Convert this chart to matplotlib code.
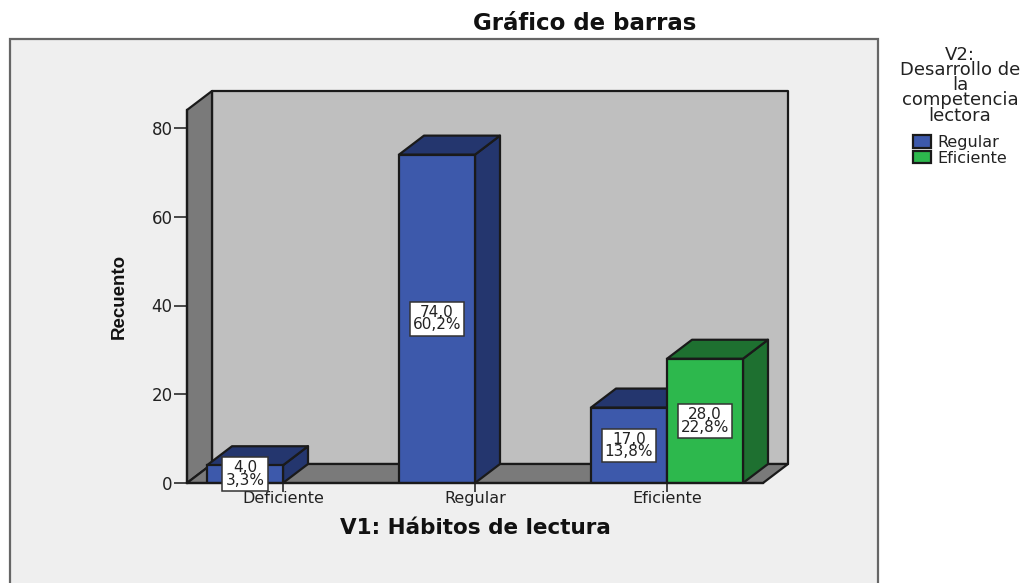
import matplotlib
matplotlib.use("Agg")
import matplotlib.pyplot as plt
from matplotlib.patches import Patch, Polygon, Rectangle
from matplotlib.transforms import IdentityTransform

categories = ["Deficiente", "Regular", "Eficiente"]
regular_counts = [4.0, 74.0, 17.0]
regular_pct = ["3,3%", "60,2%", "13,8%"]
eficiente_counts = [28.0]
eficiente_pct = ["22,8%"]
y_ticks = [0, 20, 40, 60, 80]

BLUE, BLUE_DARK = "#3d59ab", "#24366e"
GREEN, GREEN_DARK = "#2db84d", "#1e7030"
WALL, SIDE = "#bfbfbf", "#7a7a7a"
EDGE = "#1a1a1a"
DX, DY = 25, 19  # depth of the fake 3D, in pixels
BAR_W = 76 / 192

W, H = 1034, 583
plt.rcParams["font.family"] = ["DejaVu Sans"]
fig = plt.figure(figsize=(W / 100, H / 100), dpi=100, facecolor="white")
fig.add_artist(Rectangle((10 / W, -0.05), 868 / W, (H - 39) / H + 0.05, transform=fig.transFigure,
	facecolor="#efefef", edgecolor="#666666", linewidth=1.6, zorder=-1))

ax = fig.add_axes([187 / W, (H - 483) / H, 576 / W, 373 / H])
ax.patch.set_alpha(0)
ax.set_xlim(-0.5, 2.5)
ax.set_ylim(0, 373 / 4.4375)


def poly(points, color, z):
	ax.add_patch(Polygon(points, closed=True, transform=IdentityTransform(), facecolor=color,
		edgecolor=EDGE, linewidth=1.6, joinstyle="round", clip_on=False, zorder=z))


def box3d(x0, h, front, top, z):
	"""Bar with a front face in data coordinates, side and top faces shifted in pixels"""
	x1 = x0 + BAR_W
	(ax0, ay0), (ax1, ay1) = ax.transData.transform([(x0, 0), (x1, h)])
	poly([(ax1, ay0), (ax1 + DX, ay0 + DY), (ax1 + DX, ay1 + DY), (ax1, ay1)], top, z)
	poly([(ax0, ay1), (ax0 + DX, ay1 + DY), (ax1 + DX, ay1 + DY), (ax1, ay1)], top, z)
	ax.bar(x0, h, BAR_W, align="edge", color=front, edgecolor=EDGE, linewidth=1.6, zorder=z + 0.1)


def value_label(x, h, pct):
	ax.text(x, h / 2, f"{h:.1f}".replace(".", ",") + "\n" + pct, ha="center", va="center",
		fontsize=11, linespacing=0.78, color="#222222", zorder=8,
		bbox=dict(boxstyle="square,pad=0.2", facecolor="white", edgecolor="#333333", linewidth=1.1))


# walls and floor
(l, b), (r, t) = ax.transData.transform([(-0.5, 0), (2.5, ax.get_ylim()[1])])
poly([(l + DX, b + DY), (r + DX, b + DY), (r + DX, t + DY), (l + DX, t + DY)], WALL, 1)
poly([(l, b), (l + DX, b + DY), (l + DX, t + DY), (l, t)], SIDE, 1.1)
poly([(l, b), (l + DX, b + DY), (r + DX, b + DY), (r, b)], SIDE, 1.1)

# clustered bars, the series with no partner sit in the left slot
for i, h in enumerate(regular_counts):
	box3d(i - BAR_W, h, BLUE, BLUE_DARK, 2 + i)
	value_label(i - BAR_W / 2, h, regular_pct[i])
box3d(2, eficiente_counts[0], GREEN, GREEN_DARK, 5)
value_label(2 + BAR_W / 2, eficiente_counts[0], eficiente_pct[0])

for s in ["top", "right"]:
	ax.spines[s].set_visible(False)
for s in ["left", "bottom"]:
	ax.spines[s].set_color(EDGE)
	ax.spines[s].set_linewidth(1.6)
	ax.spines[s].set_zorder(7)
ax.set_xticks(range(len(categories)), categories)
ax.set_yticks(y_ticks)
ax.tick_params(axis="x", length=6.5, width=1.1, color=EDGE, labelsize=11.5, pad=-1, labelcolor="#222222")
ax.tick_params(axis="y", length=9.5, width=1.1, color=EDGE, labelsize=12, pad=1, labelcolor="#222222")

ax.set_xlabel("V1: Hábitos de lectura", fontsize=15.5, fontweight="bold", color="#111111", labelpad=9)
ax.set_ylabel("Recuento", fontsize=13.5, fontweight="bold", color="#111111",
	family=["Liberation Sans Narrow", "Liberation Sans"])
ax.yaxis.set_label_coords(-0.102, 0.50)
fig.text(585 / W, (H - 24) / H, "Gráfico de barras", ha="center", va="center", fontsize=16.5,
	fontweight="bold", color="#111111")

handles = [Patch(facecolor=BLUE, edgecolor=EDGE, linewidth=1.6, label="Regular"),
	Patch(facecolor=GREEN, edgecolor=EDGE, linewidth=1.6, label="Eficiente")]
leg = fig.legend(handles=handles, title="V2:\nDesarrollo de\nla\ncompetencia\nlectora", frameon=False,
	loc="upper center", bbox_to_anchor=(960 / W, (H - 33) / H), fontsize=11.5, title_fontsize=13,
	alignment="center", handlelength=1.1, handleheight=0.8, handletextpad=0.4, labelspacing=0.05,
	borderpad=0.3, labelcolor="#222222")
leg.get_title().set_linespacing(0.8)
leg.get_title().set_color("#222222")
leg.get_title().set_multialignment("center")
leg._legend_box.sep = 7.5

fig.savefig("out.png", dpi=100)
